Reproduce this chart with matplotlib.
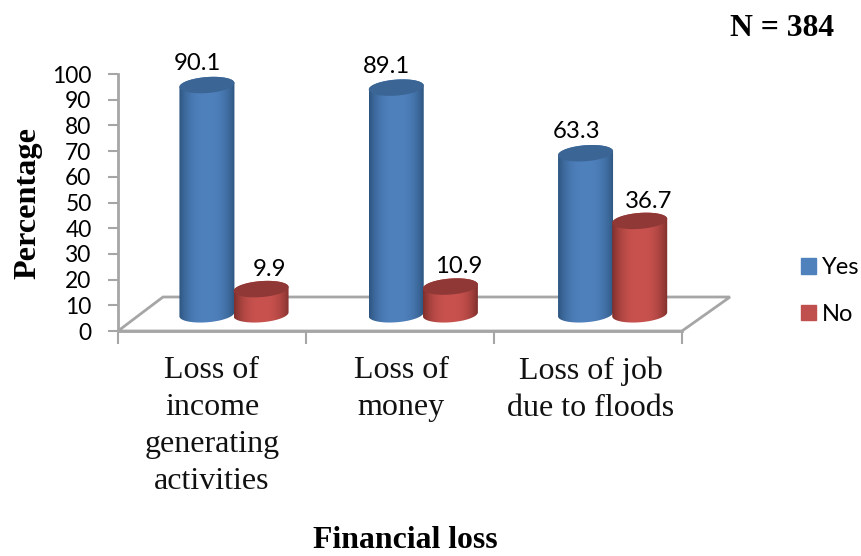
"""3D-look cylinder bar chart of financial losses."""

import matplotlib

matplotlib.use("Agg")
import matplotlib.pyplot as plt
from matplotlib.patches import Patch, PathPatch, Polygon
from matplotlib.path import Path
from matplotlib.transforms import Bbox
import numpy as np

categories = ["Loss of\nincome\ngenerating\nactivities", "Loss of\nmoney", "Loss of job\ndue to floods"]
yes_values = [90.1, 89.1, 63.3]
no_values = [9.9, 10.9, 36.7]
y_ticks = list(range(0, 101, 10))

W, H = 861, 556
BLUE = ("#2d5580", "#4f81bd", "#3a6595")
RED = ("#7e2f2c", "#c9524e", "#8f3835")
LABEL_FONT = "Lato"
SERIF = "Liberation Serif"
GRID = "#a6a6a6"

PX_X = 188.0  # pixels per category
PX_Y = 2.57  # pixels per percent
BASE = 6.5  # cylinder foot above the axis, in percent
DEPTH = 0.99
GROUP_STEP = 1.007  # cylinders sit slightly wider apart than the ticks


def _ellipse(cx, cy, t):
    # slightly tilted ellipse, rises to the right
    x = cx + (27.5 / PX_X) * np.cos(t)
    y = cy + (8.0 / PX_Y) * np.sin(t) + (2.0 / PX_Y) * np.cos(t)
    return x, y


def draw_cylinder(ax, xc, value, colors):
    edge, mid, cap = colors
    top = BASE + value * DEPTH
    t_low = np.linspace(np.pi, 2 * np.pi, 40)
    t_up = np.linspace(0, np.pi, 40)
    xb, yb = _ellipse(xc, BASE, t_low)
    xt, yt = _ellipse(xc, top, t_up)
    verts = np.column_stack([np.r_[xb, xt], np.r_[yb, yt]])
    codes = [Path.MOVETO] + [Path.LINETO] * (len(verts) - 1)
    body = PathPatch(Path(verts, codes), fc="none", ec="none", transform=ax.transData, clip_on=False)
    ax.add_patch(body)

    c0 = np.array(matplotlib.colors.to_rgb(edge))
    c1 = np.array(matplotlib.colors.to_rgb(mid))
    s = np.linspace(-1, 1, 120)
    f = np.clip(1 - np.abs(s) ** 2.6, 0, 1)[:, None]
    grad = (c0 + (c1 - c0) * f)[None, :, :]
    half = 27.5 / PX_X
    im = ax.imshow(
        grad,
        extent=(xc - half, xc + half, BASE - 5, top + 5),
        aspect="auto",
        interpolation="bilinear",
        zorder=3,
    )
    im.set_clip_path(body)

    xc_top, yc_top = _ellipse(xc, top, np.linspace(0, 2 * np.pi, 80))
    ax.fill(xc_top, yc_top, color=cap, lw=0, zorder=4, clip_on=False)


fig = plt.figure(figsize=(W / 100, H / 100), dpi=100)
fig.patch.set_facecolor("white")
ax = fig.add_axes(Bbox.from_extents(118 / W, 1 - 331 / H, 682 / W, 1 - 74 / H))
ax.patch.set_visible(False)

# floor of the 3D box
floor = Polygon(
    [(0, 0), (3, 0), (3 + 48 / PX_X, 34 / PX_Y), (45 / PX_X, 34 / PX_Y)],
    closed=True,
    fc="white",
    ec=GRID,
    lw=2.0,
    zorder=1,
    clip_on=False,
)
ax.add_patch(floor)

offsets = [0.473, 0.761]
for i, (yes, no) in enumerate(zip(yes_values, no_values)):
    x_yes = i * GROUP_STEP + offsets[0]
    x_no = i * GROUP_STEP + offsets[1]
    draw_cylinder(ax, x_yes, yes, BLUE)
    draw_cylinder(ax, x_no, no, RED)
    ax.text(x_yes - 0.05, BASE + yes * DEPTH + 4.2, f"{yes}", ha="center", va="bottom",
            fontsize=17.2, family=LABEL_FONT, zorder=6)
    ax.text(x_no + 0.045, BASE + no * DEPTH + 3.6, f"{no}", ha="center", va="bottom",
            fontsize=17.2, family=LABEL_FONT, zorder=6)

ax.set_xlim(0, 3)
ax.set_ylim(0, 100)
ax.set_yticks(y_ticks)
ax.set_xticks([0, 1, 2, 3])
ax.set_xticklabels([])
for name in ("top", "right"):
    ax.spines[name].set_visible(False)
for name in ("left", "bottom"):
    ax.spines[name].set_color(GRID)
    ax.spines[name].set_linewidth(2.0)
ax.tick_params(axis="y", length=7, width=1.5, color=GRID, labelsize=16.4, pad=12)
ax.tick_params(axis="x", length=9, width=1.5, color=GRID)
for lab in ax.get_yticklabels():
    lab.set_family(LABEL_FONT)

for i, cat in enumerate(categories):
    ax.text(i * GROUP_STEP + 0.5, -9.8, cat, ha="center", va="top", fontsize=23, family=SERIF,
            linespacing=1.36, color="#111111")

fig.text(28 / W, 1 - 203 / H, "Percentage", rotation=90, ha="center", va="center",
         fontsize=23.2, family=SERIF, weight="bold")
fig.text(405 / W, 1 - 548 / H, "Financial loss", ha="center", va="baseline",
         fontsize=22.9, family=SERIF, weight="bold")
fig.text(782 / W, 1 - 29 / H, "N = 384", ha="center", va="center",
         fontsize=22.8, family=SERIF, weight="bold")

handles = [Patch(color=BLUE[1], label="Yes"), Patch(color="#c0504d", label="No")]
fig.legend(
    handles=handles,
    loc="center left",
    bbox_to_anchor=(801 / W, 1 - 291 / H),
    frameon=False,
    prop={"family": LABEL_FONT, "size": 17},
    handlelength=0.64,
    handleheight=0.64,
    handletextpad=0.25,
    labelspacing=1.1,
    borderpad=0,
    borderaxespad=0,
)

fig.savefig("out.png", dpi=100)
plt.close(fig)
